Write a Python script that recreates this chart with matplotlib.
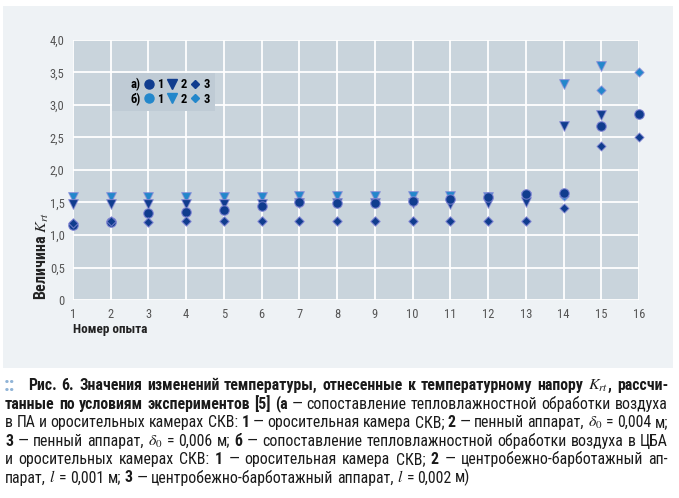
import numpy as np
import matplotlib.pyplot as plt
from matplotlib.lines import Line2D
from matplotlib.patches import Rectangle

plt.rcParams['font.family'] = ['Roboto Condensed', 'Liberation Sans Narrow', 'DejaVu Sans']
plt.rcParams['font.stretch'] = 'condensed'
plt.rcParams['mathtext.fontset'] = 'stix'

#Data
runs = np.arange(1, 17)
nan = np.nan

a1 = [1.16, 1.20, 1.34, 1.36, 1.38, 1.44, 1.50, 1.49, 1.49, 1.52, 1.55, 1.58, 1.63, 1.64, 2.68, 2.86]
a2 = [1.47, 1.47, 1.47, 1.47, 1.47, 1.48, 1.49, 1.49, 1.49, 1.49, 1.47, 1.49, 1.50, 2.68, 2.85, nan]
a3 = [1.19, 1.21, 1.20, 1.21, 1.21, 1.21, 1.21, 1.21, 1.21, 1.21, 1.21, 1.21, 1.21, 1.41, 2.37, 2.51]
b1 = [1.16, 1.20, 1.34, 1.36, 1.38, 1.44, 1.50, 1.49, 1.49, 1.52, 1.55, 1.58, 1.63, 1.64, 2.68, 2.86]
b2 = [1.585, 1.59, 1.59, 1.59, 1.59, 1.59, 1.60, 1.60, 1.60, 1.60, 1.60, 1.59, 1.58, 3.33, 3.60, nan]
b3 = [1.19, 1.21, 1.20, 1.21, 1.21, 1.21, 1.21, 1.21, 1.21, 1.21, 1.21, 1.21, 1.21, 1.60, 3.23, 3.50]

yticks      = [0, 0.5, 1.0, 1.5, 2.0, 2.5, 3.0, 3.5, 4.0]
ytick_lbls  = ['0', '0,5', '1,0', '1,5', '2,0', '2,5', '3,0', '3,5', '4,0']

caption = [
    "**Рис. 6. Значения изменений температуры, отнесенные к температурному напору** $K_{rt}$**, рассчи-**",
    "**танные по условиям экспериментов [5] (а** — сопоставление тепловлажностной обработки воздуха",
    "в ПА и оросительных камерах СКВ: **1** — оросительная камера СКВ; **2** — пенный аппарат, $\\delta_0$ = 0,004 м;",
    "**3** — пенный аппарат, $\\delta_0$ = 0,006 м; **б** — сопоставление тепловлажностной обработки воздуха в ЦБА",
    "и оросительных камерах СКВ: **1** — оросительная камера СКВ; **2** — центробежно-барботажный ап-",
    "парат, $l$ = 0,001 м; **3** — центробежно-барботажный аппарат, $l$ = 0,002 м)",
]

#Style
dark  = '#103c8e'
light = '#2387cb'
edge  = (0.55, 0.55, 0.85, 0.7)
W, H  = 679, 498

fig = plt.figure(figsize=(W / 100, H / 100), dpi=100)
fig.patch.set_facecolor('white')
fig.patches.append(Rectangle((3 / W, 1 - 368 / H), 670 / W, 362 / H,
                             transform=fig.transFigure, facecolor='#eef2f5',
                             edgecolor='none', zorder=-10))

ax = fig.add_axes([73 / W, 1 - 300 / H, 566 / W, 260 / H])
ax.set_facecolor('#c9d4dc')
for s in ax.spines.values():
    s.set_visible(False)
ax.set_xlim(1, 16)
ax.set_ylim(0, 4)
ax.set_xticks(runs)
ax.set_yticks(yticks)
ax.set_yticklabels(ytick_lbls)
ax.tick_params(length=0, labelsize=9, colors='#555555', pad=6)
ax.grid(True, color='white', linewidth=1.3)
ax.set_axisbelow(True)

kw = dict(edgecolors=[edge], linewidths=0.8, clip_on=False, zorder=3)
ax.scatter(runs, b1, marker='o', s=46, color=light, **kw)
ax.scatter(runs, b2, marker='v', s=50, color=light, **kw)
ax.scatter(runs, b3, marker='D', s=22, color=light, **kw)
ax.scatter(runs, a2, marker='v', s=50, color=dark, **kw)
ax.scatter(runs, a1, marker='o', s=46, color=dark, **kw)
ax.scatter(runs, a3, marker='D', s=22, color=dark, **kw)

blank = Line2D([], [], linestyle='none')
def h(m, c, ms):
    return Line2D([], [], marker=m, linestyle='none', color=c, markersize=ms)
handles = [blank, blank, h('o', dark, 6.5), h('o', light, 6.5),
           h('v', dark, 7), h('v', light, 7), h('D', dark, 4.5), h('D', light, 4.5)]
labels  = ['а)', 'б)', '1', '1', '2', '2', '3', '3']
leg = ax.legend(handles, labels, ncol=4, loc='upper left', bbox_to_anchor=(0.069, 0.873),
                borderaxespad=0, frameon=True, fancybox=False, handlelength=0.75,
                handletextpad=0.3, columnspacing=0.3, labelspacing=0.12,
                borderpad=0.4, prop={'weight': 'bold', 'size': 9})
leg.get_frame().set_facecolor('#bfcbd5')
leg.get_frame().set_edgecolor('none')
leg.get_frame().set_alpha(1)

ax.text(-0.055, 0, 'Величина $K_{rt}$', transform=ax.transAxes, rotation=90,
        ha='center', va='bottom', fontsize=11.5, fontweight='bold', color='#222222')
ax.text(0, -0.115, 'Номер опыта', transform=ax.transAxes, ha='left', va='center',
        fontsize=9.5, fontweight='bold', color='#222222')

###Caption###
renderer = fig.canvas.get_renderer()

def parse(line):
    words, word, run, bold = [], [], '', False
    i = 0
    while i < len(line):
        if line.startswith('**', i):
            if run:
                word.append((run, bold))
                run = ''
            bold = not bold
            i += 2
            continue
        ch = line[i]
        if ch == ' ':
            if run:
                word.append((run, bold))
                run = ''
            if word:
                words.append(word)
                word = []
        else:
            run += ch
        i += 1
    if run:
        word.append((run, bold))
    if word:
        words.append(word)
    return words

def draw_word(word, x, y, fs, measure_only=False):
    x0 = x
    for txt, bold in word:
        t = fig.text(x / W, 1 - y / H, txt, fontsize=fs, color='#1a1a1a',
                     fontweight='bold' if bold else 'normal', va='baseline', ha='left')
        w = t.get_window_extent(renderer).width
        if measure_only:
            t.remove()
        x += w
    return x - x0

baselines = [390, 408.5, 427, 445.5, 464, 482.5]
lefts     = [28, 5, 5, 5, 5, 5]
right     = 668
parsed    = [parse(line) for line in caption]

#shrink font until every line fits with a minimal word gap
fs = 12.5
for _ in range(3):
    space = fs * 100 / 72 * 0.2
    scale = 1.0
    for k, words in enumerate(parsed):
        need = sum(draw_word(wd, 0, 0, fs, True) for wd in words) + space * (len(words) - 1)
        scale = min(scale, (right - lefts[k]) / need)
    if scale >= 1:
        break
    fs *= scale * 0.995

space = fs * 100 / 72 * 0.22
for k, (words, yb) in enumerate(zip(parsed, baselines)):
    widths = [draw_word(wd, 0, yb, fs, True) for wd in words]
    if k < len(parsed) - 1:
        gap = (right - lefts[k] - sum(widths)) / (len(words) - 1)
    else:
        gap = space
    x = lefts[k]
    for wd, wdt in zip(words, widths):
        draw_word(wd, x, yb, fs)
        x += wdt + gap

fig.text(4 / W, 1 - 391 / H, '::', fontsize=15, fontweight='bold', color='#8fb3d6',
         va='baseline', ha='left')

fig.savefig('out.png', dpi=100)
